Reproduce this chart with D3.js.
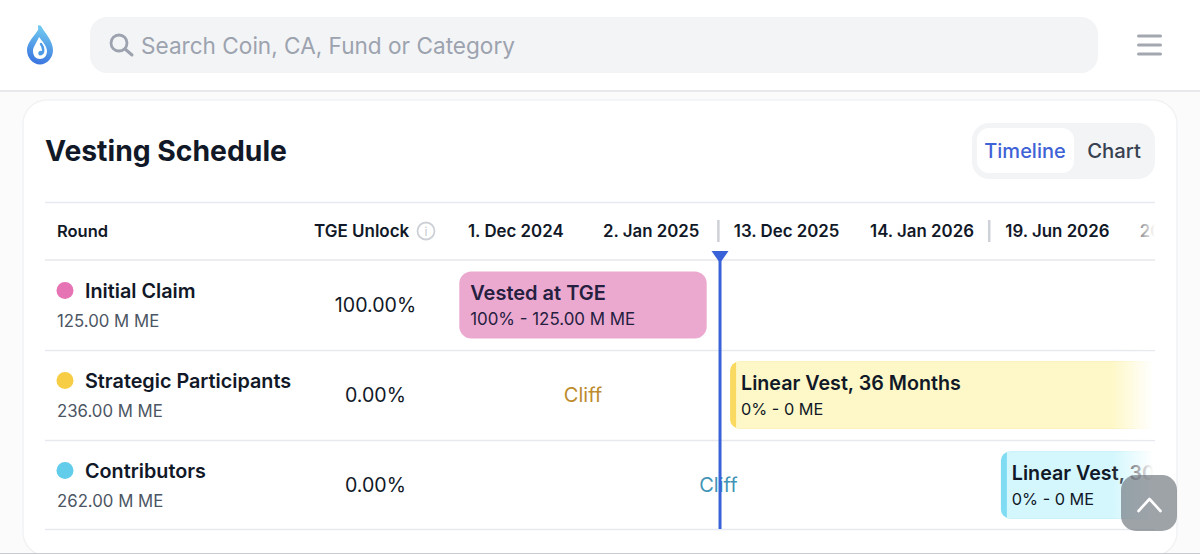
<!DOCTYPE html>
<html>
<head>
<meta charset="utf-8">
<script src="https://cdn.jsdelivr.net/npm/d3@7"></script>
<style>
  html, body { margin: 0; padding: 0; background: #fbfbfc; overflow: hidden; }
  svg { display: block; font-family: Inter, "Noto Sans", sans-serif; }
</style>
</head>
<body>
<div id="d3"></div>
<script>
const rounds = ["Initial Claim", "Strategic Participants", "Contributors"];
const amounts = ["125.00 M ME", "236.00 M ME", "262.00 M ME"];
const tge_unlock = ["100.00%", "0.00%", "0.00%"];
const date_ticks = ["1. Dec 2024", "2. Jan 2025", "13. Dec 2025", "14. Jan 2026", "19. Jun 2026", "20. Jan 2027"];
const separators = [2, 4];
const bar_start = [0, 2, 4];   // in date columns
const bar_end = [2, 7, 7];
const bar_titles = ["Vested at TGE", "Linear Vest, 36 Months", "Linear Vest, 30 Months"];
const bar_subs = ["100% - 125.00 M ME", "0% - 0 ME", "0% - 0 ME"];
const cliff_end = [0, 2, 4];
const today_column = 2.012;

const dot_colors = ["#e673b3", "#f6cd45", "#62cdea"];
const bar_colors = ["#eca9d0", "#fef8c8", "#d3f7fd"];
const edge_colors = ["#eca9d0", "#f9d95f", "#80dcf2"];
const cliff_colors = ["", "#bd8b2c", "#3f94b6"];
const blue = "#3a62d8";
const ink = "#111827";

const svg = d3.select("#d3").append("svg").attr("width", 1200).attr("height", 554);
const defs = svg.append("defs");

const x = d3.scaleLinear().domain([0, 6]).range([447.6, 1260]);
const y = d3.scaleBand().domain(rounds).range([261, 531]);

// page chrome
svg.append("rect").attr("width", 1200).attr("height", 91).attr("fill", "#fff");
svg.append("rect").attr("y", 90).attr("width", 1200).attr("height", 2).attr("fill", "#e8e9ec");

const logo_grad = defs.append("linearGradient").attr("id", "logo").attr("x1", 0.6).attr("y1", 0).attr("x2", 0.4).attr("y2", 1);
logo_grad.append("stop").attr("offset", 0).attr("stop-color", "#72cdf0");
logo_grad.append("stop").attr("offset", 1).attr("stop-color", "#3a74e0");
svg.append("path")
    .attr("d", "M38 27 C37 25 40 24.5 41 26 C45 33 53 41 53 50 C53 58 47 64.5 40 64.5 C33 64.5 27 58 27 50 C27 44 32 38 36 33 C37 31 39 30 38 27 Z")
    .attr("fill", "url(#logo)");
svg.append("path")
    .attr("d", "M39 37 C42 41 47 46 47 51 C47 56 44 59 40 59 C36 59 33 56 33 51 C33 47 36 44 39 37 Z")
    .attr("fill", "#fff");
svg.append("path")
    .attr("d", "M41 44 C44 48 44 53 41 54 C39 55 39 52 41 52")
    .attr("fill", "none").attr("stroke", "#4d9be6").attr("stroke-width", 2.4).attr("stroke-linecap", "round");

svg.append("rect").attr("x", 90).attr("y", 17).attr("width", 1008).attr("height", 56).attr("rx", 17).attr("fill", "#f3f4f6");
svg.append("circle").attr("cx", 119).attr("cy", 43).attr("r", 8).attr("fill", "none").attr("stroke", "#9ca3af").attr("stroke-width", 2.8);
svg.append("line").attr("x1", 125).attr("y1", 49).attr("x2", 132).attr("y2", 55).attr("stroke", "#9ca3af").attr("stroke-width", 3).attr("stroke-linecap", "round");
svg.append("text").attr("x", 141).attr("y", 54).attr("font-size", 22.6).attr("fill", "#9ca3af").text("Search Coin, CA, Fund or Category");

[36, 45, 54].forEach(d => {
    svg.append("rect").attr("x", 1137).attr("y", d - 1.5).attr("width", 25).attr("height", 3).attr("rx", 1.5).attr("fill", "#a3a8b0");
});

// card
svg.append("rect").attr("x", 23).attr("y", 100).attr("width", 1154).attr("height", 456).attr("rx", 24)
    .attr("fill", "#fff").attr("stroke", "#f1f2f4").attr("stroke-width", 1.5);
svg.append("rect").attr("y", 553).attr("width", 1200).attr("height", 1).attr("fill", "#c9cbd0");

svg.append("text").attr("x", 45).attr("y", 161).attr("font-size", 28.3).attr("font-weight", 700).attr("fill", ink).text("Vesting Schedule");

svg.append("rect").attr("x", 972).attr("y", 123).attr("width", 183).attr("height", 56).attr("rx", 17).attr("fill", "#f3f4f6");
svg.append("rect").attr("x", 977).attr("y", 128).attr("width", 97).attr("height", 45).attr("rx", 12).attr("fill", "#fff");
svg.append("text").attr("x", 1025).attr("y", 158).attr("text-anchor", "middle").attr("font-size", 20).attr("font-weight", 500).attr("fill", "#3f62d6").text("Timeline");
svg.append("text").attr("x", 1114).attr("y", 158).attr("text-anchor", "middle").attr("font-size", 20.3).attr("font-weight", 500).attr("fill", "#374151").text("Chart");

// table rules
[202.5, 260, 350.5, 440.5, 529.5].forEach(d => {
    svg.append("line").attr("x1", 45).attr("x2", 1155).attr("y1", d).attr("y2", d).attr("stroke", "#e8e9ee").attr("stroke-width", 1.6);
});

// header
svg.append("text").attr("x", 57).attr("y", 237).attr("font-size", 16.5).attr("font-weight", 600).attr("fill", ink).text("Round");
svg.append("text").attr("x", 314).attr("y", 237).attr("font-size", 17).attr("font-weight", 600).attr("fill", ink).text("TGE Unlock");
svg.append("circle").attr("cx", 426).attr("cy", 231).attr("r", 8.5).attr("fill", "none").attr("stroke", "#cdd1d7").attr("stroke-width", 1.8);
svg.append("text").attr("x", 426).attr("y", 236).attr("text-anchor", "middle").attr("font-size", 12).attr("fill", "#c4c8cf").text("i");

defs.append("clipPath").attr("id", "timeline").append("rect").attr("x", 448).attr("y", 202).attr("width", 707).attr("height", 330);

const timeline = svg.append("g").attr("clip-path", "url(#timeline)");

const axis = d3.axisTop(x)
    .tickValues(date_ticks.map((d, i) => i + 0.5))
    .tickFormat((d, i) => date_ticks[i])
    .tickSize(0);
const axis_g = timeline.append("g").attr("transform", "translate(0,231)").call(axis);
axis_g.select(".domain").remove();
axis_g.selectAll("text")
    .attr("y", 0).attr("dy", "0.36em")
    .attr("font-family", "Inter, sans-serif")
    .attr("font-size", 16.85).attr("font-weight", 600).attr("fill", ink);

timeline.selectAll(".sep").data(separators).join("rect").attr("class", "sep")
    .attr("x", d => x(d) - 1.25).attr("y", 220).attr("width", 2.5).attr("height", 22).attr("fill", "#ced1d8");

// round column
const row = svg.selectAll(".row").data(rounds).join("g").attr("class", "row");
row.append("circle").attr("cx", 65).attr("cy", d => y(d) + 29.5).attr("r", 8.5).attr("fill", (d, i) => dot_colors[i]);
row.append("text").attr("x", 85).attr("y", d => y(d) + 36.5).attr("font-size", 19.8).attr("font-weight", 600).attr("fill", ink).text(d => d);
row.append("text").attr("x", 57).attr("y", d => y(d) + 66).attr("font-size", 16.8).attr("fill", "#4b5563").text((d, i) => amounts[i]);
row.append("text").attr("x", 375.5).attr("y", d => y(d) + 51).attr("text-anchor", "middle").attr("font-size", 19.6).attr("fill", ink).text((d, i) => tge_unlock[i]);

// bars
const inset = 11.7;
const bar_top = 10.5;
const bar_height = 67;
const bars = timeline.selectAll(".bar").data(rounds).join("g").attr("class", "bar");
bars.append("rect")
    .attr("x", (d, i) => x(bar_start[i]) + inset)
    .attr("y", d => y(d) + bar_top)
    .attr("width", (d, i) => x(bar_end[i]) - x(bar_start[i]) - 2 * inset)
    .attr("height", bar_height)
    .attr("rx", (d, i) => i === 0 ? 12 : 9)
    .attr("fill", (d, i) => edge_colors[i]);
// coloured left edge on the linear bars only
bars.filter((d, i) => i > 0).append("rect")
    .attr("x", d => x(bar_start[rounds.indexOf(d)]) + inset + 6)
    .attr("y", d => y(d) + bar_top)
    .attr("width", d => x(bar_end[rounds.indexOf(d)]) - x(bar_start[rounds.indexOf(d)]) - 2 * inset - 6)
    .attr("height", bar_height)
    .attr("fill", d => bar_colors[rounds.indexOf(d)]);
bars.append("text")
    .attr("x", (d, i) => x(bar_start[i]) + 22.6)
    .attr("y", d => y(d) + 39)
    .attr("font-size", (d, i) => i === 0 ? 20 : 19.7).attr("font-weight", 600).attr("fill", (d, i) => i === 0 ? "#25203f" : ink)
    .text((d, i) => bar_titles[i]);
bars.append("text")
    .attr("x", (d, i) => x(bar_start[i]) + 22.6)
    .attr("y", d => y(d) + 64)
    .attr("font-size", (d, i) => i === 0 ? 16.9 : 16.3).attr("fill", (d, i) => i === 0 ? "#25203f" : ink)
    .text((d, i) => bar_subs[i]);

// cliffs
timeline.selectAll(".cliff").data(rounds.filter((d, i) => cliff_end[i] > 0)).join("text").attr("class", "cliff")
    .attr("x", d => x(cliff_end[rounds.indexOf(d)] / 2))
    .attr("y", d => y(d) + 51)
    .attr("text-anchor", "middle").attr("font-size", 20)
    .attr("fill", d => cliff_colors[rounds.indexOf(d)])
    .text("Cliff");

// right edge fade
const fade = defs.append("linearGradient").attr("id", "fade");
fade.append("stop").attr("offset", 0).attr("stop-color", "#fff").attr("stop-opacity", 0);
fade.append("stop").attr("offset", 0.9).attr("stop-color", "#fff").attr("stop-opacity", 1);
svg.append("rect").attr("x", 1112).attr("y", 262).attr("width", 46).attr("height", 88).attr("fill", "url(#fade)");
svg.append("rect").attr("x", 1112).attr("y", 352).attr("width", 46).attr("height", 88).attr("fill", "url(#fade)");
svg.append("rect").attr("x", 1112).attr("y", 442).attr("width", 46).attr("height", 87).attr("fill", "url(#fade)");
svg.append("rect").attr("x", 1125).attr("y", 206).attr("width", 33).attr("height", 52).attr("fill", "url(#fade)");

// today marker
svg.append("line").attr("x1", x(today_column)).attr("x2", x(today_column)).attr("y1", 252).attr("y2", 529)
    .attr("stroke", blue).attr("stroke-width", 3);
svg.append("path")
    .attr("transform", `translate(${x(today_column)},0)`)
    .attr("d", "M-8.5 251 L8.5 251 L1.5 261 L-1.5 261 Z")
    .attr("fill", blue);

// scroll to top button
svg.append("rect").attr("x", 1121).attr("y", 475).attr("width", 56).attr("height", 56).attr("rx", 15).attr("fill", "#70777f").attr("fill-opacity", 0.68);
svg.append("path").attr("d", "M1138.5 511 L1149.5 499 L1160.5 511").attr("fill", "none").attr("stroke", "#fff").attr("stroke-width", 2.6).attr("stroke-linecap", "round").attr("stroke-linejoin", "round");
</script>
</body>
</html>
